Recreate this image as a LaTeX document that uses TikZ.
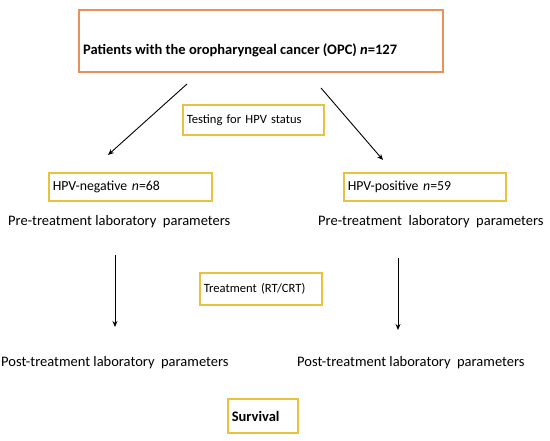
\documentclass[tikz,border=0pt]{standalone}
\usepackage{fontspec}
\setmainfont{Carlito}
\usepackage{tikz}
\usetikzlibrary{arrows.meta, positioning}
\definecolor{boxorange}{HTML}{E8915B}
\definecolor{boxgold}{HTML}{E9C13C}

\begin{document}
\begin{tikzpicture}[x=1pt, y=-1pt,
    every node/.style={font=\fontsize{14.5}{17}\selectfont},
    goldbox/.style={draw=boxgold, line width=1.6pt, anchor=west, align=left, inner xsep=4pt},
    plain/.style={anchor=west, inner sep=0pt},
    arrow/.style={-{Stealth[length=6pt, width=5pt]}, line width=0.9pt}]
  \useasboundingbox (0,0) rectangle (550,441);

  % Cohort
  \node[draw=boxorange, line width=1.6pt, anchor=north west,
        minimum width=364pt, minimum height=62pt] (opc) at (78,9) {};
  \node[plain, font=\fontsize{14.5}{17}\selectfont\bfseries] (opctxt) at (83,50)
    {Patients with the oropharyngeal cancer (OPC) \textit{n}=127};

  % HPV testing
  \node[goldbox, font=\fontsize{12.6}{15}\selectfont, text width=133pt, minimum height=30pt]
    (test) at (182,120) {Testing for HPV status};
  \node[goldbox, font=\fontsize{13.8}{16}\selectfont, text width=155pt, minimum height=28pt]
    (neg) at (48,187) {HPV-negative \textit{n}=68};
  \node[goldbox, font=\fontsize{13.8}{16}\selectfont, text width=154pt, minimum height=28pt]
    (pos) at (343,187) {HPV-positive \textit{n}=59};

  \node[plain] (preL) at (8,222) {Pre-treatment laboratory~ parameters};
  \node[plain] (preR) at (318,222) {Pre-treatment~ laboratory~ parameters};

  % Treatment
  \node[goldbox, font=\fontsize{12.6}{15}\selectfont, text width=114pt, minimum height=32pt]
    (treat) at (199,289) {Treatment (RT/CRT)};

  \node[plain] (postL) at (1,363) {Post-treatment laboratory~ parameters};
  \node[plain] (postR) at (297,363) {Post-treatment laboratory~ parameters};

  \node[goldbox, font=\fontsize{14.5}{17}\selectfont\bfseries, text width=62pt, minimum height=34pt]
    (surv) at (227,416) {Survival};

  % Arrows
  \coordinate (opcL) at (187,84);
  \coordinate (opcR) at (321,88);
  \coordinate (negIn) at (108,155);
  \coordinate (posIn) at (383,160);
  \coordinate (preLout) at (115,255);
  \coordinate (preRout) at (398,258);
  \coordinate (postLin) at (115,327);
  \coordinate (postRin) at (398,330);
  \draw[arrow] (opcL) -- (negIn);
  \draw[arrow] (opcR) -- (posIn);
  \draw[arrow] (preLout) -- (postLin);
  \draw[arrow] (preRout) -- (postRin);
\end{tikzpicture}
\end{document}
